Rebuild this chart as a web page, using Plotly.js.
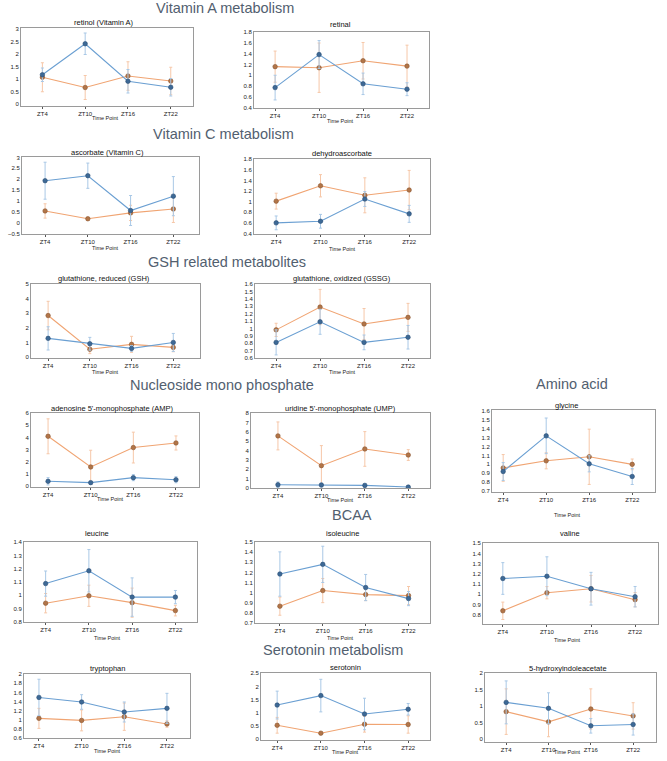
<!DOCTYPE html>
<html><head><meta charset="utf-8">
<script src="https://cdn.plot.ly/plotly-3.0.1.min.js"></script>
<style>html,body{margin:0;padding:0;background:#fff}#chart{width:667px;height:761px}</style>
</head><body><div id="chart"></div>
<script>
const categories = ['ZT4','ZT10','ZT16','ZT22'];

// blue series (values, error) and orange series (values, error)
const retinolBlue = [1.17, 2.41, 0.91, 0.67];
const retinolBlueErr = [0.27, 0.43, 0.47, 0.35];
const retinolOrange = [1.07, 0.66, 1.12, 0.92];
const retinolOrangeErr = [0.58, 0.48, 0.57, 0.55];

const retinalBlue = [0.77, 1.385, 0.84, 0.74];
const retinalBlueErr = [0.23, 0.26, 0.2, 0.12];
const retinalOrange = [1.16, 1.14, 1.27, 1.17];
const retinalOrangeErr = [0.29, 0.46, 0.34, 0.39];

const ascorbateBlue = [1.93, 2.16, 0.56, 1.22];
const ascorbateBlueErr = [0.85, 0.58, 0.69, 0.9];
const ascorbateOrange = [0.54, 0.18, 0.45, 0.63];
const ascorbateOrangeErr = [0.33, 0.07, 0.35, 0.62];

const dehydroBlue = [0.6, 0.63, 1.05, 0.77];
const dehydroBlueErr = [0.13, 0.13, 0.14, 0.16];
const dehydroOrange = [1.01, 1.3, 1.12, 1.22];
const dehydroOrangeErr = [0.15, 0.21, 0.33, 0.37];

const gshBlue = [1.28, 0.91, 0.59, 1.0];
const gshBlueErr = [0.8, 0.44, 0.2, 0.62];
const gshOrange = [2.85, 0.53, 0.87, 0.66];
const gshOrangeErr = [0.98, 0.3, 0.55, 0.3];

const gssgBlue = [0.81, 1.09, 0.81, 0.88];
const gssgBlueErr = [0.17, 0.17, 0.1, 0.16];
const gssgOrange = [0.98, 1.29, 1.06, 1.15];
const gssgOrangeErr = [0.09, 0.24, 0.21, 0.19];

const ampBlue = [0.39, 0.28, 0.69, 0.52];
const ampBlueErr = [0.3, 0.1, 0.25, 0.25];
const ampOrange = [4.1, 1.57, 3.17, 3.55];
const ampOrangeErr = [1.44, 1.38, 1.27, 0.58];

const umpBlue = [0.32, 0.29, 0.25, 0.07];
const umpBlueErr = [0.3, 0.2, 0.2, 0.1];
const umpOrange = [5.56, 2.37, 4.16, 3.51];
const umpOrangeErr = [1.5, 2.15, 1.86, 0.58];

const glycineBlue = [0.92, 1.32, 1.006, 0.864];
const glycineBlueErr = [0.1, 0.2, 0.09, 0.09];
const glycineOrange = [0.96, 1.04, 1.085, 1.0];
const glycineOrangeErr = [0.15, 0.09, 0.31, 0.06];

const leucineBlue = [1.088, 1.185, 0.986, 0.986];
const leucineBlueErr = [0.095, 0.16, 0.145, 0.05];
const leucineOrange = [0.94, 0.996, 0.944, 0.884];
const leucineOrangeErr = [0.073, 0.08, 0.11, 0.04];

const isoleucineBlue = [1.184, 1.28, 1.05, 0.94];
const isoleucineBlueErr = [0.22, 0.18, 0.13, 0.07];
const isoleucineOrange = [0.865, 1.02, 0.98, 0.97];
const isoleucineOrangeErr = [0.09, 0.12, 0.06, 0.09];

const valineBlue = [1.155, 1.177, 1.055, 0.977];
const valineBlueErr = [0.155, 0.19, 0.16, 0.1];
const valineOrange = [0.839, 1.016, 1.055, 0.948];
const valineOrangeErr = [0.085, 0.06, 0.13, 0.07];

const tryptophanBlue = [1.49, 1.39, 1.17, 1.25];
const tryptophanBlueErr = [0.4, 0.16, 0.22, 0.33];
const tryptophanOrange = [1.03, 0.985, 1.066, 0.905];
const tryptophanOrangeErr = [0.22, 0.23, 0.3, 0.07];

const serotoninBlue = [1.29, 1.65, 0.95, 1.13];
const serotoninBlueErr = [0.53, 0.62, 0.6, 0.22];
const serotoninOrange = [0.52, 0.22, 0.56, 0.55];
const serotoninOrangeErr = [0.3, 0.05, 0.3, 0.33];

const hiaaBlue = [1.12, 0.94, 0.41, 0.45];
const hiaaBlueErr = [0.65, 0.47, 0.22, 0.32];
const hiaaOrange = [0.84, 0.53, 0.92, 0.71];
const hiaaOrangeErr = [0.69, 0.45, 0.61, 0.4];

const panelTitles = ['retinol (Vitamin A)','retinal','ascorbate (Vitamin C)','dehydroascorbate',
  'glutathione, reduced (GSH)','glutathione, oxidized (GSSG)','adenosine 5\'-monophosphate (AMP)',
  'uridine 5\'-monophosphate (UMP)','glycine','leucine','isoleucine','valine','tryptophan','serotonin',
  '5-hydroxyindoleacetate'];
const sectionTitles = ['Vitamin A metabolism','Vitamin C metabolism','GSH related metabolites',
  'Nucleoside mono phosphate','Amino acid','BCAA','Serotonin metabolism'];
const xAxisLabel = 'Time Point';

const series = [
  [retinolBlue, retinolBlueErr, retinolOrange, retinolOrangeErr],
  [retinalBlue, retinalBlueErr, retinalOrange, retinalOrangeErr],
  [ascorbateBlue, ascorbateBlueErr, ascorbateOrange, ascorbateOrangeErr],
  [dehydroBlue, dehydroBlueErr, dehydroOrange, dehydroOrangeErr],
  [gshBlue, gshBlueErr, gshOrange, gshOrangeErr],
  [gssgBlue, gssgBlueErr, gssgOrange, gssgOrangeErr],
  [ampBlue, ampBlueErr, ampOrange, ampOrangeErr],
  [umpBlue, umpBlueErr, umpOrange, umpOrangeErr],
  [glycineBlue, glycineBlueErr, glycineOrange, glycineOrangeErr],
  [leucineBlue, leucineBlueErr, leucineOrange, leucineOrangeErr],
  [isoleucineBlue, isoleucineBlueErr, isoleucineOrange, isoleucineOrangeErr],
  [valineBlue, valineBlueErr, valineOrange, valineOrangeErr],
  [tryptophanBlue, tryptophanBlueErr, tryptophanOrange, tryptophanOrangeErr],
  [serotoninBlue, serotoninBlueErr, serotoninOrange, serotoninOrangeErr],
  [hiaaBlue, hiaaBlueErr, hiaaOrange, hiaaOrangeErr]
];

// layout: box [left, right, top, bottom] px, x range, y range, dtick, title pos, x-label pos
const geom = [
  {b:[21,193,28,106], xr:[-0.5,3.52], yr:[-0.08,3.04], dt:0.5, t:[104,23], a:[105,118]},
  {b:[254,429,32,108], xr:[-0.48,3.5], yr:[0.39,1.805], dt:0.2, t:[340,25], a:[340,121]},
  {b:[22,199,157,234], xr:[-0.54,3.6], yr:[-0.52,3.02], dt:0.5, t:[107,152], a:[105,248]},
  {b:[254,430,159,234], xr:[-0.5,3.47], yr:[0.39,1.805], dt:0.2, t:[342,153], a:[343,249]},
  {b:[31,200,284,358], xr:[-0.41,3.64], yr:[-0.07,5.02], dt:1, t:[104,278], a:[105,372]},
  {b:[255,430,284,358], xr:[-0.48,3.5], yr:[0.598,1.603], dt:0.1, t:[342,278], a:[343,372]},
  {b:[31,199,413,487], xr:[-0.4,3.54], yr:[-0.08,6.02], dt:1, t:[112,408], a:[110,499]},
  {b:[251,430,413,488], xr:[-0.62,3.5], yr:[-0.03,8.02], dt:1, t:[340,408], a:[340,500]},
  {b:[492,655,410,492], xr:[-0.26,3.53], yr:[0.69,1.61], dt:0.1, t:[566,405], a:[567,515]},
  {b:[24,197,542,622], xr:[-0.5,3.5], yr:[0.798,1.402], dt:0.1, t:[97,533], a:[107,638]},
  {b:[255,430,542,623], xr:[-0.58,3.5], yr:[0.698,1.502], dt:0.1, t:[342,533], a:[340,638]},
  {b:[483,658,543,624], xr:[-0.45,3.52], yr:[0.71,1.502], dt:0.1, t:[570,533], a:[567,640]},
  {b:[24,190,674,738], xr:[-0.35,3.54], yr:[0.598,2.005], dt:0.2, t:[107,668], a:[107,751]},
  {b:[261,430,673,740], xr:[-0.37,3.5], yr:[-0.04,2.51], dt:0.5, t:[345,667], a:[345,752]},
  {b:[485,656,673,742], xr:[-0.5,3.54], yr:[-0.08,2.01], dt:0.5, t:[568,668], a:[567,752]}
];
const sectionPos = [[225,8],[223,134],[227,262],[222,385],[572,384],[352,515],[333,650]];

const W = 667, H = 761;
const px = x => x / W, py = y => 1 - y / H;
const FONT = 'Liberation Sans, Arial, sans-serif';
const BLUE_LINE = '#6a9fd2', BLUE_MK = '#3d6996', BLUE_ERR = '#a9c8e6';
const OR_LINE = '#f0a472', OR_MK = '#b27548', OR_ERR = '#f6c7a8';

const traces = [];
const layout = {width: W, height: H, margin:{l:0,r:0,t:0,b:0}, showlegend:false,
  paper_bgcolor:'#fff', plot_bgcolor:'#fff', annotations:[], font:{family:FONT}};

geom.forEach((g, i) => {
  const n = i + 1, xa = 'x' + (n === 1 ? '' : n), ya = 'y' + (n === 1 ? '' : n);
  const [bv, be, ov, oe] = series[i];
  traces.push({x: categories, y: ov, xaxis: xa, yaxis: ya, type:'scatter', mode:'lines+markers',
    line:{color: OR_LINE, width:1.1},
    marker:{color: OR_MK, size:4.5, line:{color:'#8a5530', width:0.6}},
    error_y:{type:'data', array: oe, visible:true, color: OR_ERR, thickness:1, width:1.5}, cliponaxis:true});
  traces.push({x: categories, y: bv, xaxis: xa, yaxis: ya, type:'scatter', mode:'lines+markers',
    line:{color: BLUE_LINE, width:1.1},
    marker:{color: BLUE_MK, size:4.5, line:{color:'#2a4d73', width:0.6}},
    error_y:{type:'data', array: be, visible:true, color: BLUE_ERR, thickness:1, width:1.5}, cliponaxis:true});
  const [l, r, t, b] = g.b;
  layout['xaxis' + (n === 1 ? '' : n)] = {domain:[px(l), px(r)], anchor: ya, range: g.xr,
    type:'category', showline:true, mirror:true, linecolor:'#9a9a9a', linewidth:1, showgrid:false,
    zeroline:false, ticks:'outside', ticklen:2, tickcolor:'#555', tickwidth:1,
    tickfont:{size:6, color:'#222', family:FONT}, fixedrange:true};
  layout['yaxis' + (n === 1 ? '' : n)] = {domain:[py(b), py(t)], anchor: xa, range: g.yr,
    showline:true, mirror:true, linecolor:'#9a9a9a', linewidth:1, showgrid:false, zeroline:false,
    ticks:'', tick0:0, dtick: g.dt, tickfont:{size:6, color:'#222', family:FONT}, fixedrange:true};
  layout.annotations.push({text: panelTitles[i], xref:'paper', yref:'paper', x: px(g.t[0]), y: py(g.t[1]),
    xanchor:'center', yanchor:'middle', showarrow:false, font:{size:7.5, color:'#111', family:FONT}});
  layout.annotations.push({text: xAxisLabel, xref:'paper', yref:'paper', x: px(g.a[0]), y: py(g.a[1]),
    xanchor:'center', yanchor:'middle', showarrow:false, font:{size:5.5, color:'#222', family:FONT}});
});

sectionTitles.forEach((s, i) => {
  layout.annotations.push({text: s, xref:'paper', yref:'paper', x: px(sectionPos[i][0]), y: py(sectionPos[i][1]),
    xanchor:'center', yanchor:'middle', showarrow:false,
    font:{size:14.5, color:'#52606f', family:FONT}});
});

Plotly.newPlot('chart', traces, layout, {staticPlot:true, displayModeBar:false});
</script></body></html>
